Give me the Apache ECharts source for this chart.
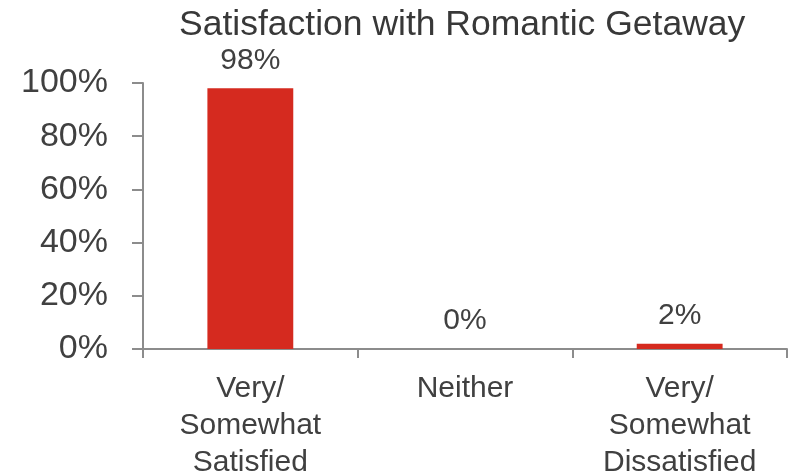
<!DOCTYPE html>
<html>
<head>
<meta charset="utf-8">
<script src="https://cdn.jsdelivr.net/npm/echarts@6/dist/echarts.min.js"></script>
<style>html,body{margin:0;padding:0;background:#fff}#c{width:788px;height:476px}</style>
</head>
<body>
<div id="c"></div>
<script>
const titleText = "Satisfaction with Romantic Getaway";
const categories = ["Very/\nSomewhat\nSatisfied", "Neither", "Very/\nSomewhat\nDissatisfied"];
const values = [98, 0, 2];
const yTicks = [0, 20, 40, 60, 80, 100];

const FONT = "'Liberation Sans', Arial, sans-serif";
const TXT = "#404040";
const AX = "#8c8c8c";

const chart = echarts.init(document.getElementById('c'), null, {renderer: 'canvas'});
chart.setOption({
  animation: false,
  backgroundColor: '#ffffff',
  title: {
    text: titleText,
    left: 179, top: 7,
    padding: 0,
    textStyle: {fontFamily: FONT, fontSize: 35.5, fontWeight: 'normal', color: '#383838'}
  },
  grid: {left: 143, right: 1, top: 83, bottom: 127, containLabel: false, outerBoundsMode: 'none'},
  xAxis: {
    type: 'category',
    data: categories,
    axisLine: {show: true, lineStyle: {color: AX, width: 2}},
    axisTick: {show: true, alignWithLabel: false, length: 9, lineStyle: {color: AX, width: 2}},
    axisLabel: {fontFamily: FONT, fontSize: 30, color: TXT, lineHeight: 37, margin: 21, interval: 0}
  },
  yAxis: {
    type: 'value',
    min: 0, max: 100, interval: 20,
    axisLine: {show: true, lineStyle: {color: AX, width: 2}},
    axisTick: {show: true, length: 11, lineStyle: {color: AX, width: 2}},
    splitLine: {show: false},
    axisLabel: {
      fontFamily: FONT, fontSize: 34, color: TXT, margin: 35,
      formatter: v => (yTicks.includes(v) ? v + '%' : '')
    }
  },
  series: [{
    type: 'bar',
    data: values,
    barWidth: '40%',
    itemStyle: {color: '#d52a1f'},
    label: {
      show: true, position: 'top', distance: 13,
      fontFamily: FONT, fontSize: 30, color: TXT,
      formatter: p => p.value + '%'
    }
  }]
});
</script>
</body>
</html>
